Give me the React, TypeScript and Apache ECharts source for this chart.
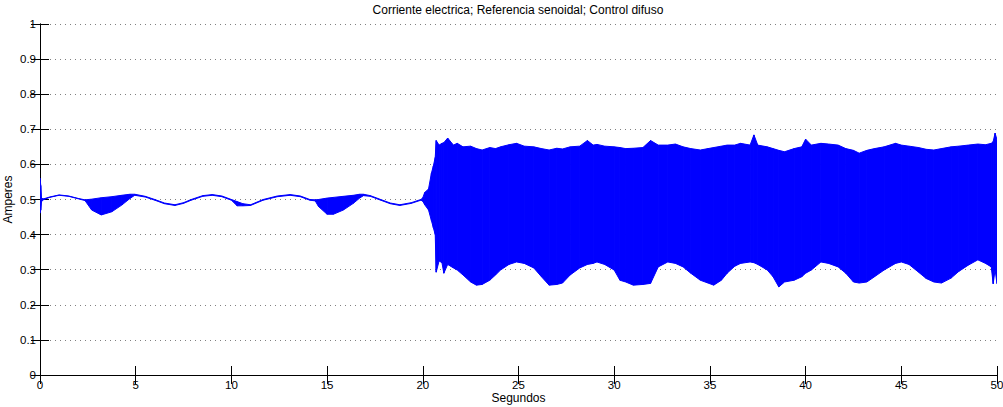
import React, { useEffect, useRef } from "react";
import * as echarts from "echarts";

// Current envelope of the fuzzy-controlled drive (min / max of the trace at each instant)
const seconds: number[] = [
  // tracking phase
  0, 0.04, 0.08, 0.2, 0.5, 1.0, 1.5, 2.0, 2.35, 2.7,
  3.2, 3.75, 4.27, 4.7, 4.95, 5.5, 6.0, 6.5, 7.05, 7.5,
  7.9, 8.5, 9.0, 9.5, 10.0, 10.3, 10.6, 11.0, 11.66, 12.4,
  13.07, 13.6, 14.1, 14.38, 14.55, 15.0, 15.33, 15.85, 16.37, 16.7,
  16.9, 17.26, 17.8, 18.3, 18.8, 19.4, 19.9,
  // chattering phase
  20.0, 20.1, 20.3, 20.45, 20.55, 20.65, 20.7, 20.85, 21.0, 21.1,
  21.3, 21.6, 21.8, 22.1, 22.5, 22.8, 23.1, 23.5, 23.8, 24.06,
  24.5, 24.9, 25.3, 25.8, 26.2, 26.6, 27.0, 27.3, 27.7, 28.2,
  28.6, 28.9, 29.1, 29.5, 30.0, 30.3, 30.6, 31.0, 31.5, 31.9,
  32.3, 32.8, 33.2, 33.6, 34.0, 34.5, 34.9, 35.2, 35.6, 35.9,
  36.3, 36.6, 37.1, 37.3, 37.5, 38.0, 38.3, 38.6, 38.9, 39.4,
  39.8, 40.0, 40.3, 40.8, 41.2, 41.7, 42.1, 42.5, 42.8, 43.2,
  43.6, 44.1, 44.7, 45.0, 45.4, 45.9, 46.3, 46.7, 47.1, 47.6,
  48.0, 48.5, 49.0, 49.4, 49.7, 49.8, 49.9, 50.0,
];

const lowerAmps: number[] = [
  0.461, 0.470, 0.494, 0.500, 0.506, 0.512, 0.509, 0.502, 0.497, 0.470,
  0.456, 0.465, 0.484, 0.503, 0.512, 0.507, 0.498, 0.488, 0.483, 0.489,
  0.498, 0.509, 0.512, 0.508, 0.498, 0.482, 0.482, 0.483, 0.498, 0.508,
  0.512, 0.508, 0.498, 0.496, 0.480, 0.458, 0.458, 0.470, 0.489, 0.504,
  0.511, 0.509, 0.498, 0.488, 0.483, 0.489, 0.498,
  0.495, 0.485, 0.470, 0.440, 0.420, 0.400, 0.293, 0.325, 0.320, 0.290,
  0.315, 0.305, 0.299, 0.285, 0.265, 0.256, 0.258, 0.270, 0.285, 0.299,
  0.315, 0.322, 0.318, 0.305, 0.280, 0.256, 0.258, 0.262, 0.285, 0.305,
  0.315, 0.318, 0.322, 0.315, 0.299, 0.270, 0.265, 0.256, 0.258, 0.261,
  0.308, 0.322, 0.318, 0.308, 0.290, 0.270, 0.262, 0.256, 0.270, 0.290,
  0.310, 0.318, 0.322, 0.320, 0.315, 0.299, 0.280, 0.251, 0.265, 0.270,
  0.280, 0.290, 0.299, 0.322, 0.318, 0.308, 0.290, 0.265, 0.262, 0.265,
  0.280, 0.299, 0.318, 0.322, 0.315, 0.293, 0.275, 0.265, 0.262, 0.276,
  0.295, 0.313, 0.328, 0.318, 0.308, 0.260, 0.300, 0.260,
];

const upperAmps: number[] = [
  0.561, 0.540, 0.503, 0.502, 0.507, 0.513, 0.510, 0.503, 0.499, 0.501,
  0.505, 0.508, 0.512, 0.515, 0.515, 0.509, 0.500, 0.490, 0.485, 0.491,
  0.500, 0.511, 0.514, 0.510, 0.500, 0.494, 0.488, 0.485, 0.500, 0.510,
  0.514, 0.510, 0.500, 0.499, 0.500, 0.504, 0.506, 0.509, 0.512, 0.515,
  0.515, 0.511, 0.500, 0.490, 0.485, 0.491, 0.500,
  0.505, 0.520, 0.530, 0.575, 0.595, 0.620, 0.668, 0.655, 0.660, 0.662,
  0.675, 0.655, 0.660, 0.650, 0.652, 0.645, 0.641, 0.648, 0.645, 0.650,
  0.656, 0.660, 0.652, 0.650, 0.645, 0.641, 0.646, 0.644, 0.650, 0.652,
  0.668, 0.655, 0.657, 0.652, 0.650, 0.648, 0.645, 0.646, 0.648, 0.668,
  0.655, 0.655, 0.658, 0.650, 0.645, 0.641, 0.645, 0.648, 0.652, 0.655,
  0.655, 0.660, 0.655, 0.684, 0.655, 0.650, 0.645, 0.640, 0.636, 0.645,
  0.650, 0.672, 0.655, 0.660, 0.658, 0.655, 0.645, 0.640, 0.632, 0.640,
  0.645, 0.650, 0.660, 0.655, 0.652, 0.648, 0.643, 0.641, 0.645, 0.650,
  0.652, 0.655, 0.658, 0.656, 0.660, 0.665, 0.689, 0.670,
];

const titleText = "Corriente electrica; Referencia senoidal; Control difuso";
const xName = "Segundos";
const yName = "Amperes";

const FONT = "'Liberation Sans', Arial, Helvetica, sans-serif";
const BLUE = "#0000ff";

export default function App() {
  const ref = useRef<HTMLDivElement>(null);

  useEffect(() => {
    if (!ref.current) return;
    const chart = echarts.init(ref.current, undefined, { renderer: "svg" });

    // one row per sample: time, min, max
    const rows = seconds.map((t, i) => [t, lowerAmps[i], upperAmps[i]]);

    // each item fills the band between its sample and the next one
    const renderBand = (params: any, api: any) => {
      const i = params.dataIndex;
      if (i >= rows.length - 1) return null;
      const [t0, lo0, hi0] = rows[i];
      const [t1, lo1, hi1] = rows[i + 1];
      const pts = [
        api.coord([t0, lo0]),
        api.coord([t1, lo1]),
        api.coord([t1, hi1]),
        api.coord([t0, hi0]),
      ];
      return {
        type: "polygon",
        shape: { points: pts },
        style: { fill: BLUE, stroke: BLUE, lineWidth: 1, lineJoin: "round" },
      };
    };

    const axisLine = { show: true, lineStyle: { color: "#000", width: 1 } };
    const tick = { show: true, inside: true, length: 9, lineStyle: { color: "#000", width: 1 } };
    const label = { color: "#000", fontSize: 11.5, fontFamily: FONT };
    const nameStyle = { color: "#000", fontSize: 12, fontFamily: FONT };

    chart.setOption({
      animation: false,
      backgroundColor: "#fff",
      grid: {
        left: 40,
        right: 6,
        top: 24,
        bottom: 32,
        containLabel: false,
        outerBoundsMode: "none",
      },
      graphic: [
        {
          type: "text",
          x: 518,
          y: 10,
          style: {
            text: titleText,
            fill: "#000",
            font: `12px ${FONT}`,
            textAlign: "center",
            textVerticalAlign: "middle",
          },
        },
      ],
      xAxis: [
        {
          type: "value",
          min: 0,
          max: 50,
          interval: 5,
          position: "bottom",
          axisLine,
          axisTick: tick,
          axisLabel: { ...label, margin: 4 },
          splitLine: { show: false },
          name: xName,
          nameLocation: "middle",
          nameGap: 17,
          nameMoveOverlap: false,
          nameTextStyle: { ...nameStyle },
        },
        {
          type: "value",
          min: 0,
          max: 50,
          interval: 5,
          position: "top",
          axisLine,
          axisTick: tick,
          axisLabel: { show: false },
          splitLine: { show: false },
        },
      ],
      yAxis: [
        {
          type: "value",
          min: 0,
          max: 1,
          interval: 0.1,
          position: "left",
          axisLine,
          axisTick: tick,
          axisLabel: { ...label, margin: 4 },
          splitLine: {
            show: true,
            lineStyle: { color: "#808080", width: 1, type: [1, 4] },
          },
          name: yName,
          nameLocation: "middle",
          nameRotate: 90,
          nameGap: 26,
          nameMoveOverlap: false,
          nameTextStyle: { ...nameStyle },
        },
        {
          type: "value",
          min: 0,
          max: 1,
          interval: 0.1,
          position: "right",
          axisLine,
          axisTick: tick,
          axisLabel: { show: false },
          splitLine: { show: false },
        },
      ],
      series: [
        {
          type: "custom",
          name: "Corriente",
          data: rows,
          encode: { x: 0, y: [1, 2] },
          renderItem: renderBand,
          clip: true,
          z: 3,
        },
      ],
    });

    return () => chart.dispose();
  }, []);

  return (
    <div
      ref={ref}
      style={{ position: "absolute", left: 0, top: 0, width: 1003, height: 407 }}
    />
  );
}
